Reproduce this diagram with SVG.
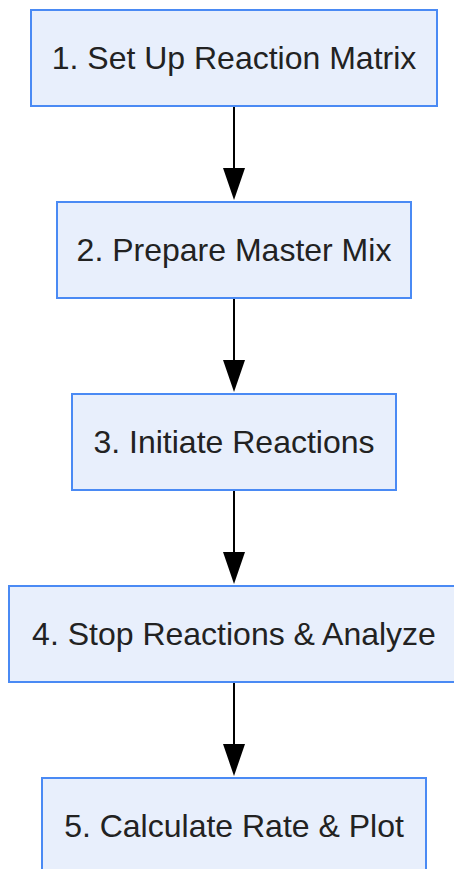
<svg xmlns="http://www.w3.org/2000/svg" width="454" height="869" viewBox="0 0 454 869">
<defs>
<style>
.box{fill:#e8effc;stroke:#4a8af4;stroke-width:2}
.lbl{font-family:"Liberation Sans",Arial,sans-serif;font-size:32px;fill:#222;text-anchor:middle;dominant-baseline:central}
.edge{stroke:#000;stroke-width:2;fill:none}
.head{fill:#000}
</style>
</defs>
<rect width="454" height="869" fill="#fff"/>
<g id="connectors">
<path class="edge" d="M234,106 L234,168"/><path class="head" d="M223,168 L245,168 L234,200 Z"/>
<path class="edge" d="M234,298 L234,360"/><path class="head" d="M223,360 L245,360 L234,392 Z"/>
<path class="edge" d="M234,490 L234,552"/><path class="head" d="M223,552 L245,552 L234,584 Z"/>
<path class="edge" d="M234,682 L234,744"/><path class="head" d="M223,744 L245,744 L234,776 Z"/>
</g>
<g id="n1"><rect class="box" x="31" y="10" width="406" height="96"/><text class="lbl" x="234" y="58">1. Set Up Reaction Matrix</text></g>
<g id="n2"><rect class="box" x="57" y="202" width="354" height="96"/><text class="lbl" x="234" y="250">2. Prepare Master Mix</text></g>
<g id="n3"><rect class="box" x="72" y="394" width="324" height="96"/><text class="lbl" x="234" y="442">3. Initiate Reactions</text></g>
<g id="n4"><rect class="box" x="9" y="586" width="450" height="96"/><text class="lbl" x="234" y="634">4. Stop Reactions &amp; Analyze</text></g>
<g id="n5"><rect class="box" x="42" y="778" width="384" height="96"/><text class="lbl" x="234" y="826">5. Calculate Rate &amp; Plot</text></g>
</svg>
